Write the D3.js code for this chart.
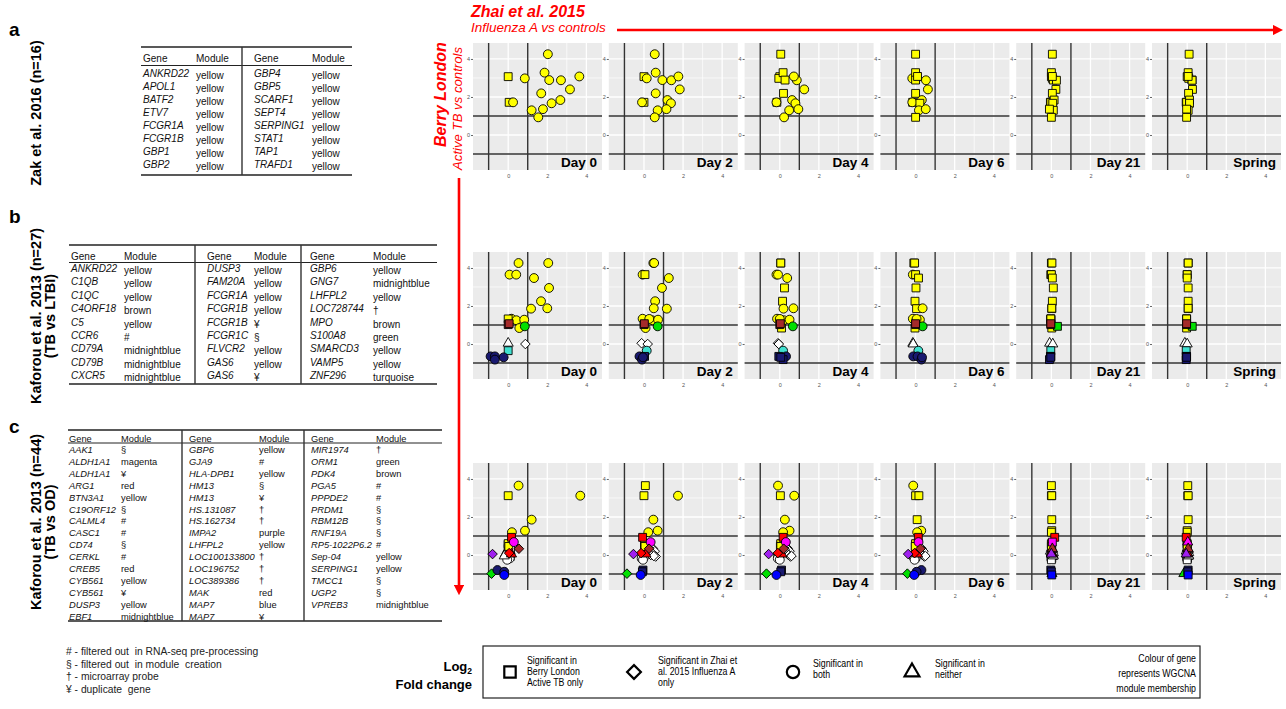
<!DOCTYPE html>
<html>
<head>
<meta charset="utf-8">
<script src="https://cdn.jsdelivr.net/npm/d3@7"></script>
<style>
  body { margin: 0; background: #fff; }
  svg { font-family: "Liberation Sans", Arial, sans-serif; }
</style>
</head>
<body>
<svg id="fig" width="1286" height="709"></svg>
<script>
// ---- data ----
const days = ["Day 0", "Day 2", "Day 4", "Day 6", "Day 21", "Spring"];
const tickValues = [0, 2, 4];

// gene tables
const zakGenes = ["ANKRD22","APOL1","BATF2","ETV7","FCGR1A","FCGR1B","GBP1","GBP2",
  "GBP4","GBP5","SCARF1","SEPT4","SERPING1","STAT1","TAP1","TRAFD1"];
const zakModules = ["yellow","yellow","yellow","yellow","yellow","yellow","yellow","yellow",
  "yellow","yellow","yellow","yellow","yellow","yellow","yellow","yellow"];

const ltbiGenes = ["ANKRD22","C1QB","C1QC","C4ORF18","C5","CCR6","CD79A","CD79B","CXCR5",
  "DUSP3","FAM20A","FCGR1A","FCGR1B","FCGR1B","FCGR1C","FLVCR2","GAS6","GAS6",
  "GBP6","GNG7","LHFPL2","LOC728744","MPO","S100A8","SMARCD3","VAMP5","ZNF296"];
const ltbiModules = ["yellow","yellow","yellow","brown","yellow","#","midnightblue","midnightblue","midnightblue",
  "yellow","yellow","yellow","yellow","¥","§","yellow","yellow","¥",
  "yellow","midnightblue","yellow","†","brown","green","yellow","yellow","turquoise"];

const odGenes = ["AAK1","ALDH1A1","ALDH1A1","ARG1","BTN3A1","C19ORF12","CALML4","CASC1","CD74","CERKL","CREB5","CYB561","CYB561","DUSP3","EBF1",
  "GBP6","GJA9","HLA-DPB1","HM13","HM13","HS.131087","HS.162734","IMPA2","LHFPL2","LOC100133800","LOC196752","LOC389386","MAK","MAP7","MAP7",
  "MIR1974","ORM1","PDK4","PGA5","PPPDE2","PRDM1","RBM12B","RNF19A","RP5-1022P6.2","Sep-04","SERPING1","TMCC1","UGP2","VPREB3"];
const odModules = ["§","magenta","¥","red","yellow","§","#","#","§","#","red","yellow","¥","yellow","midnightblue",
  "yellow","#","yellow","§","¥","†","†","purple","yellow","†","†","†","red","blue","¥",
  "†","green","brown","#","#","§","§","§","#","yellow","yellow","§","§","midnightblue"];

const footnotes = ["# - filtered out  in RNA-seq pre-processing", "§ - filtered out  in module  creation",
  "† - microarray probe", "¥ - duplicate  gene"];

// scatter data: y = Berry London log2FC, x = Zhai log2FC per day
// shape codes: S = Berry only, D = Zhai only, C = both, T = neither
const zakPlotModule = ["yellow","yellow","yellow","yellow","yellow","yellow","yellow","yellow",
  "yellow","yellow","yellow","yellow","yellow","yellow","yellow","yellow"];
const zakBerry = [3.07,1.72,1.72,2.98,4.25,3.28,2.89,2.88,3.08,2.40,2.19,1.84,1.67,1.30,1.36,0.93];
const zakZhai = [
  [0.00,0.05,0.25,0.85,2.03,1.86,2.10,2.70,3.64,3.16,1.69,2.67,2.22,1.20,1.78,1.54],
  [0.00,0.00,-0.10,0.14,0.55,0.60,0.94,1.40,1.76,1.83,0.60,1.20,1.38,0.70,1.15,0.55],
  [0.00,-0.15,-0.17,-0.05,0.05,0.17,0.27,0.87,0.72,1.25,0.19,0.63,0.80,0.48,0.95,0.22],
  [0.07,-0.15,-0.17,-0.17,0.00,0.00,0.00,0.53,0.10,0.63,0.00,0.32,0.22,0.17,0.52,0.00],
  [0.00,-0.05,-0.03,0.05,0.05,0.00,0.10,0.26,0.05,0.23,0.05,0.14,0.07,0.10,-0.10,0.00],
  [0.00,-0.05,-0.03,0.08,0.10,0.05,0.25,0.25,0.05,0.27,0.07,0.12,0.12,0.05,-0.03,-0.03]
];
const zakSig = ["SSCCCCCCCCCCCCCC","SSCCCCCCCCCCCCCC","SSCSSSSCCCSCCCCC",
  "SSCCSSSCSCSCSCCS","SSSSSSSSSSSSSSSS","SSSSSSSSSSSSSSSS"];

const ltbiPlotModule = ["yellow","yellow","yellow","yellow","yellow","yellow","yellow","yellow","yellow","yellow",
  "yellow","yellow","yellow","yellow","green","brown","brown","none","none","turquoise",
  "midnightblue","midnightblue","midnightblue","midnightblue"];
const ltbiBerry = [4.26,4.26,3.65,3.65,3.47,2.95,2.25,1.86,1.88,1.33,1.25,1.28,0.84,1.32,0.93,1.02,1.07,
  0.04,0.00,-0.35,-0.65,-0.65,-0.82,-0.70];
const ltbiZhai = [
  [0.53,2.05,0.07,0.41,1.32,2.09,1.68,1.17,2.00,0.17,0.42,0.82,0.57,0.00,0.85,0.00,0.05,0.00,0.88,0.00,-0.90,-0.68,-0.68,-0.23],
  [0.48,0.52,-0.07,0.05,1.27,0.92,0.57,1.17,0.50,-0.07,0.43,0.72,0.08,0.27,0.70,0.00,0.02,-0.12,0.19,0.14,-0.23,0.03,-0.10,-0.05],
  [0.05,0.05,-0.17,-0.09,0.38,0.24,0.14,0.19,0.70,-0.14,0.21,0.50,0.09,0.00,0.67,0.00,0.03,-0.09,-0.05,0.17,-0.05,0.32,0.17,0.05],
  [-0.09,-0.05,-0.14,0.00,0.15,0.02,-0.03,0.05,0.36,-0.14,0.05,0.22,-0.03,0.05,0.36,0.00,0.00,-0.14,-0.12,0.14,-0.12,0.10,0.30,0.33],
  [0.00,0.03,-0.03,0.00,0.05,0.10,0.05,0.02,0.02,-0.03,-0.03,-0.03,0.02,-0.03,0.31,-0.03,-0.03,-0.09,0.07,-0.03,-0.05,-0.03,-0.10,-0.03],
  [0.05,0.05,0.00,0.00,0.00,0.05,0.05,0.05,0.05,-0.03,-0.03,-0.03,-0.03,-0.03,0.26,-0.03,-0.03,-0.12,0.00,-0.05,-0.05,-0.03,-0.05,-0.03]
];
const ltbiSig = ["CCCCCCCCCCCCCSCSSTDSCCCC","CCCSCCCCCCCCCCCSSDDCCSCC","SSCCCSSCCCCCSCCSSDDCSCSS",
  "SSCSSSSSCCCCSCCSSTTCCCCC","SSSSSSSSSSSSSSSSSTTSSSSS","SSSSSSSSSSSSSSSSSTTSSSSS"];

const odPlotModule = ["yellow","yellow","yellow","yellow","yellow","yellow","yellow","yellow","red","red","red",
  "magenta","brown","purple","green","midnightblue","midnightblue","blue",
  "none","none","none","none","none","none","none","none","none","none","none","none","none","none","none"];
const odBerry = [3.65,3.12,3.12,1.86,1.28,1.20,0.60,0.45,0.93,0.05,0.10,0.68,0.33,0.05,-0.98,-0.79,-0.88,-1.05,
  0.55,0.45,0.35,0.25,0.20,0.12,0.05,0.00,-0.02,-0.08,-0.12,-0.18,-0.25,0.30,-0.05];
const odZhai = [
  [0.53,0.00,3.69,1.20,0.86,0.19,0.00,0.03,0.17,0.17,0.05,0.29,0.55,-0.80,-0.85,-0.55,-0.20,-0.20,
   0.00,0.02,0.00,-0.05,0.10,-0.10,-0.15,0.05,-0.05,0.10,0.00,0.08,-0.05,0.12,-0.20],
  [0.07,0.00,1.74,0.48,0.70,0.22,0.03,0.05,-0.07,0.10,-0.15,0.34,0.26,-0.54,-0.87,-0.05,-0.08,-0.17,
   0.05,0.03,0.45,0.30,0.55,0.40,-0.05,0.35,-0.10,0.60,0.00,-0.12,-0.05,0.20,0.50],
  [-0.09,0.03,0.74,0.26,0.50,0.17,0.05,0.05,0.17,0.10,-0.10,0.31,0.20,-0.57,-0.68,0.09,0.05,-0.17,
   0.05,0.03,0.40,0.30,0.50,0.35,0.00,0.45,-0.10,0.55,-0.05,-0.10,0.00,0.25,0.60],
  [-0.12,0.00,0.17,0.08,0.29,0.08,0.00,-0.02,0.14,0.10,-0.05,0.15,0.25,-0.38,-0.42,0.30,0.05,-0.07,
   0.00,0.00,0.30,0.20,0.40,0.25,0.05,0.35,-0.05,0.45,-0.10,0.00,-0.05,0.15,0.50],
  [0.00,0.00,0.02,0.02,0.02,0.00,0.00,0.00,0.17,0.05,0.00,0.05,0.05,0.00,0.03,-0.03,0.00,0.02,
   0.00,0.02,0.00,0.05,-0.05,0.10,0.00,0.08,0.00,0.05,-0.02,0.02,0.00,0.05,0.10],
  [0.03,0.03,0.05,0.05,0.00,0.00,0.00,0.00,-0.05,0.00,0.00,0.03,0.05,-0.05,-0.17,0.05,0.03,0.05,
   0.00,0.02,0.00,0.05,-0.05,0.08,0.00,0.05,0.00,0.03,-0.02,0.02,0.00,0.05,0.08]
];
const odSig = ["CSCCCCSSSTDCDDDCCC" + "SSSTTTTTCSCCCST",
  "SSCCCCSSSTDCDDDSSC" + "SSDDDDTDCDCCCDD",
  "CSCCCCSSSTDCDDDSSC" + "SSDDDDTDCDCCCDD",
  "CSSSCCSSSTDCDDDCCC" + "SSDDDDTDCDCCCDD",
  "SSSSSSSSSTTSTTTSSS" + "SSTTTTTTSTSSSTT",
  "SSSSSSSSSTTTTTTSSS" + "SSTTTTTTSTSSSTT"];

const legendItems = [
  {shape: "S", lines: ["Significant in", "Berry London", "Active TB only"]},
  {shape: "D", lines: ["Significant in Zhai et", "al. 2015 Influenza A", "only"]},
  {shape: "C", lines: ["Significant in", "both"]},
  {shape: "T", lines: ["Significant in", "neither"]}
];
const legendNote = ["Colour of gene", "represents WGCNA", "module membership"];

// ---- styles ----
const moduleFill = {
  yellow: "#ffff00", brown: "#a52a2a", midnightblue: "#191970", green: "#00e000",
  turquoise: "#40e0d0", red: "#ff0000", magenta: "#ff00ff", purple: "#a020f0",
  blue: "#0000ff", none: "#ffffff"
};
const red = "#ff0000";

const svg = d3.select("#fig");
svg.append("defs").append("marker")
  .attr("id", "arrow").attr("viewBox", "0 0 10 10").attr("refX", 5).attr("refY", 5)
  .attr("markerWidth", 4).attr("markerHeight", 4).attr("orient", "auto")
  .append("path").attr("d", "M0,0 L10,5 L0,10 z").attr("fill", red);

// ---- left side: panel letters and rotated study labels ----
const leftLabels = [
  {letter: "a", ly: 36, lines: ["Zak et al. 2016 (n=16)"], cy: 113},
  {letter: "b", ly: 223, lines: ["Kaforou et al. 2013 (n=27)", "(TB vs LTBI)"], cy: 316},
  {letter: "c", ly: 433, lines: ["Kaforou et al. 2013 (n=44)", "(TB vs OD)"], cy: 522}
];
leftLabels.forEach(d => {
  svg.append("text").attr("x", 9).attr("y", d.ly)
    .attr("font-size", 19).attr("font-weight", "bold").text(d.letter);
  d.lines.forEach((t, i) => {
    svg.append("text")
      .attr("transform", `translate(${41 + i * 14},${d.cy}) rotate(-90)`)
      .attr("text-anchor", "middle").attr("font-size", 14.5).attr("font-weight", "bold")
      .text(t);
  });
});

// ---- tables ----
function drawTable(cfg) {
  const g = svg.append("g").attr("font-size", cfg.fs).attr("fill", "#111");
  const rowsBottom = cfg.bottom;
  g.append("line").attr("x1", cfg.x0).attr("x2", cfg.x1).attr("y1", cfg.top).attr("y2", cfg.top)
    .attr("stroke", "#222").attr("stroke-width", 1.6);
  g.append("line").attr("x1", cfg.x0).attr("x2", cfg.x1).attr("y1", cfg.hline).attr("y2", cfg.hline)
    .attr("stroke", "#222").attr("stroke-width", 1);
  g.append("line").attr("x1", cfg.x0).attr("x2", cfg.x1).attr("y1", rowsBottom).attr("y2", rowsBottom)
    .attr("stroke", "#222").attr("stroke-width", 1.6);
  cfg.dividers.forEach(x => {
    g.append("line").attr("x1", x).attr("x2", x).attr("y1", cfg.top).attr("y2", rowsBottom)
      .attr("stroke", "#333").attr("stroke-width", 1.4);
  });
  cfg.cols.forEach((c, ci) => {
    g.append("text").attr("x", c[0]).attr("y", cfg.headY).text("Gene");
    g.append("text").attr("x", c[1]).attr("y", cfg.headY).text("Module");
    const start = ci * cfg.perCol;
    const genes = cfg.genes.slice(start, start + cfg.perCol);
    const mods = cfg.modules.slice(start, start + cfg.perCol);
    genes.forEach((gn, i) => {
      const y = cfg.row0 + i * cfg.step;
      g.append("text").attr("x", c[0]).attr("y", y).attr("font-style", "italic").text(gn);
      g.append("text").attr("x", c[1]).attr("y", y + cfg.modDy).text(mods[i]);
    });
  });
}

drawTable({genes: zakGenes, modules: zakModules, perCol: 8, fs: 10,
  x0: 141, x1: 352, top: 47, hline: 65.5, bottom: 175, headY: 62, row0: 77, step: 13,
  modDy: 1.5, dividers: [242], cols: [[143, 196], [254, 312]]});

drawTable({genes: ltbiGenes, modules: ltbiModules, perCol: 9, fs: 10,
  x0: 69, x1: 437, top: 245, hline: 262.5, bottom: 384, headY: 260, row0: 272, step: 13.4,
  modDy: 2, dividers: [195, 301], cols: [[71, 124], [207, 254], [310, 373]]});

drawTable({genes: odGenes, modules: odModules, perCol: 15, fs: 9.3,
  x0: 68, x1: 442, top: 430, hline: 443, bottom: 621, headY: 442, row0: 453, step: 11.9,
  modDy: 0, dividers: [182, 304], cols: [[69, 121], [189, 259], [311, 376]]});

footnotes.forEach((t, i) => {
  svg.append("text").attr("x", 66).attr("y", 655 + i * 12.7)
    .attr("font-size", 10.3).attr("fill", "#222").style("white-space", "pre").text(t);
});

// ---- headers of the scatter grid ----
svg.append("text").attr("x", 471).attr("y", 17).attr("fill", red)
  .attr("font-size", 16).attr("font-weight", "bold").attr("font-style", "italic")
  .text("Zhai et al. 2015");
svg.append("text").attr("x", 471).attr("y", 32).attr("fill", red)
  .attr("font-size", 13.5).attr("font-style", "italic")
  .text("Influenza A vs controls");
svg.append("line").attr("x1", 617).attr("x2", 1278).attr("y1", 30).attr("y2", 30)
  .attr("stroke", red).attr("stroke-width", 2.6).attr("marker-end", "url(#arrow)");

svg.append("text").attr("transform", "translate(446,147) rotate(-90)").attr("fill", red)
  .attr("font-size", 16).attr("font-weight", "bold").attr("font-style", "italic")
  .text("Berry London");
svg.append("text").attr("transform", "translate(462,170) rotate(-90)").attr("fill", red)
  .attr("font-size", 13.2).attr("font-style", "italic")
  .text("Active TB vs controls");
svg.append("line").attr("x1", 459).attr("x2", 459).attr("y1", 178).attr("y2", 590)
  .attr("stroke", red).attr("stroke-width", 2.6).attr("marker-end", "url(#arrow)");

// ---- scatter panels ----
const panelW = 129, panelH = 127;
const colX = d3.scaleLinear().domain([0, 5]).range([473, 1152]);
const rowTops = [43, 252, 463];
const x = d3.scaleLinear().domain([-1.8, 4.8]).range([0, panelW]);
const y = d3.scaleLinear().domain([-1.84, 4.84]).range([panelH, 0]);

const symbolType = {S: d3.symbolSquare, D: d3.symbolSquare, C: d3.symbolCircle, T: d3.symbolTriangle};
const symbolSize = {S: 62, D: 46, C: 62, T: 44};

const rows = [
  {module: zakPlotModule, berry: zakBerry, zhai: zakZhai, sig: zakSig},
  {module: ltbiPlotModule, berry: ltbiBerry, zhai: ltbiZhai, sig: ltbiSig},
  {module: odPlotModule, berry: odBerry, zhai: odZhai, sig: odSig}
];

rows.forEach((row, ri) => {
  days.forEach((day, di) => {
    const g = svg.append("g")
      .attr("transform", `translate(${colX(di)},${rowTops[ri]})`);
    g.append("rect").attr("width", panelW).attr("height", panelH).attr("fill", "#ebebeb");

    // grid
    d3.range(-1, 5).forEach(v => {
      const major = v % 2 === 0;
      g.append("line").attr("x1", x(v)).attr("x2", x(v)).attr("y1", 0).attr("y2", panelH)
        .attr("stroke", "#fff").attr("stroke-width", major ? 1.3 : 0.7);
      g.append("line").attr("y1", y(v)).attr("y2", y(v)).attr("x1", 0).attr("x2", panelW)
        .attr("stroke", "#fff").attr("stroke-width", major ? 1.3 : 0.7);
    });

    // threshold lines
    [-1, 1].forEach(v => {
      g.append("line").attr("x1", x(v)).attr("x2", x(v)).attr("y1", 0).attr("y2", panelH)
        .attr("stroke", "#333").attr("stroke-width", 1.4);
      g.append("line").attr("y1", y(v)).attr("y2", y(v)).attr("x1", 0).attr("x2", panelW)
        .attr("stroke", "#333").attr("stroke-width", 1.4);
    });

    // axes
    const ay = g.append("g").call(d3.axisLeft(y).tickValues(tickValues)
      .tickFormat(d3.format("d")).tickSize(2).tickPadding(1));
    const ax = g.append("g").attr("transform", `translate(0,${panelH})`)
      .call(d3.axisBottom(x).tickValues(tickValues).tickFormat(d3.format("d"))
        .tickSize(0).tickPadding(4));
    [ax, ay].forEach(a => {
      a.select(".domain").remove();
      a.selectAll("text").attr("font-size", 5.5).attr("fill", "#555")
        .attr("font-family", "Liberation Sans, Arial, sans-serif");
      a.selectAll("line").attr("stroke", "#666");
    });

    // points: unassigned genes underneath coloured ones
    const pts = row.berry.map((b, i) => ({
      x: row.zhai[di][i], y: b, s: row.sig[di][i], m: row.module[i]
    }));
    pts.sort((a, b) => (a.m === "none" ? 0 : 1) - (b.m === "none" ? 0 : 1));
    g.selectAll("path.pt").data(pts).enter().append("path")
      .attr("class", "pt")
      .attr("d", d => d3.symbol().type(symbolType[d.s]).size(symbolSize[d.s])())
      .attr("transform", d => `translate(${x(d.x)},${y(d.y)})` + (d.s === "D" ? " rotate(45)" : ""))
      .attr("fill", d => moduleFill[d.m])
      .attr("stroke", "#000").attr("stroke-width", 0.9);

    g.append("text").attr("x", panelW - 5).attr("y", panelH - 3.5)
      .attr("text-anchor", "end").attr("font-size", 13.5).attr("font-weight", "bold")
      .text(day);
  });
});

// ---- legend ----
const lg = svg.append("g");
lg.append("text").attr("x", 472).attr("y", 671).attr("text-anchor", "end")
  .attr("font-size", 13).attr("font-weight", "bold")
  .text("Log").append("tspan").attr("font-size", 8.5).attr("dy", 3).text("2");
lg.append("text").attr("x", 472).attr("y", 689).attr("text-anchor", "end")
  .attr("font-size", 13).attr("font-weight", "bold").text("Fold change");

lg.append("rect").attr("x", 483).attr("y", 646).attr("width", 717).attr("height", 52)
  .attr("fill", "#fff").attr("stroke", "#222").attr("stroke-width", 1.2);

const legendSymX = [510, 634, 793, 912];
const legendTextX = [527, 658, 813, 935];
const legendSize = {S: 130, D: 95, C: 120, T: 95};
// condensed legend text
function narrowText(px, py, t, anchor) {
  lg.append("text")
    .attr("transform", `translate(${px},${py}) scale(0.8,1)`)
    .attr("text-anchor", anchor || "start")
    .attr("font-size", 11).text(t);
}
legendItems.forEach((it, i) => {
  lg.append("path")
    .attr("d", d3.symbol().type(symbolType[it.shape]).size(legendSize[it.shape])())
    .attr("transform", `translate(${legendSymX[i]},672)` + (it.shape === "D" ? " rotate(45)" : ""))
    .attr("fill", "#fff").attr("stroke", "#000").attr("stroke-width", 2.2);
  const y0 = it.lines.length === 3 ? 664 : 667;
  it.lines.forEach((t, j) => narrowText(legendTextX[i], y0 + j * 11, t));
});
legendNote.forEach((t, j) => narrowText(1196, 662 + j * 15, t, "end"));
</script>
</body>
</html>
